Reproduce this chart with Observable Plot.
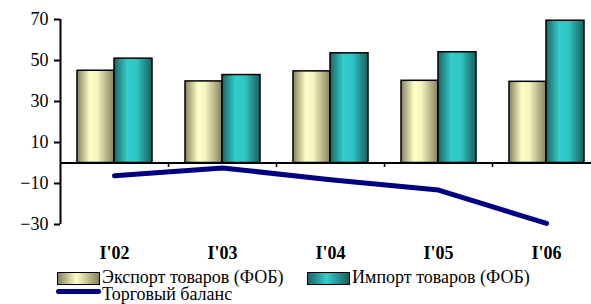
<!DOCTYPE html>
<html><head><meta charset="utf-8">
<script src="https://cdn.jsdelivr.net/npm/d3@7"></script>
<script src="https://cdn.jsdelivr.net/npm/@observablehq/plot@0.6"></script>
<style>
body{margin:0;background:#fff;font-family:"Liberation Serif","Times New Roman",serif;}
#wrap{position:relative;width:591px;height:304px;overflow:hidden;}
#chart svg, #chart svg text, #chart svg g{font-family:"Liberation Serif","Times New Roman",serif !important;}
#legend{position:absolute;left:0;top:264px;width:591px;height:40px;font-size:18px;color:#000;font-family:"Liberation Serif","Times New Roman",serif;}
.sw{position:absolute;box-sizing:border-box;border:1.5px solid #000;}
.lt{position:absolute;line-height:16px;height:16px;white-space:nowrap;}
</style>
</head><body>
<div id="wrap"><div id="chart"></div><div id="legend"></div></div>
<script>
const categories = ["I'02","I'03","I'04","I'05","I'06"];
const exportValues = [45.0, 39.8, 44.7, 40.1, 39.6];
const importValues = [50.9, 42.9, 53.5, 54.0, 69.4];
const balanceValues = [-6.2, -2.4, -8.2, -13.2, -29.5];
const yTicks = [70, 50, 30, 10, -10, -30];
const seriesNames = ["Экспорт товаров (ФОБ)", "Импорт товаров (ФОБ)", "Торговый баланс"];

const exportData = categories.map((c,i)=>({cat:c, v:exportValues[i]}));
const importData = categories.map((c,i)=>({cat:c, v:importValues[i]}));
const balanceData = categories.map((c,i)=>({cat:c, v:balanceValues[i]}));

const FONT = '"Liberation Serif","Times New Roman",serif';
const chart = Plot.plot({
  width: 591, height: 264,
  marginLeft: 60, marginRight: -9, marginTop: 19, marginBottom: 40,
  style: {fontFamily: FONT, fontSize: "18px", color: "#000", background: "#fff", overflow: "hidden"},
  x: {type: "band", domain: categories, padding: 0, round: false, axis: null, label: null},
  y: {domain: [-30, 70], axis: null, label: null},
  marks: [
    Plot.barY(exportData, {x: "cat", y: "v", fill: "url(#gExp)", stroke: "#000", strokeWidth: 1.5, insetLeft: 17, insetRight: 54}),
    Plot.barY(importData, {x: "cat", y: "v", fill: "url(#gImp)", stroke: "#000", strokeWidth: 1.5, insetLeft: 54, insetRight: 16}),
    Plot.ruleY([0], {stroke: "#000", strokeWidth: 2}),
    Plot.ruleX(categories.slice(1), {x: d => d, y1: 0, y2: -30, dx: -54, insetBottom: 57, stroke: "#000", strokeWidth: 1.5}),
    Plot.ruleX(categories.slice(0,1), {x: d => d, y1: -30, y2: 70, dx: -54, stroke: "#000", strokeWidth: 2}),
    Plot.axisY({ticks: yTicks, tickSize: 6, tickPadding: 6, strokeWidth: 2, fontSize: 18, label: null}),
    Plot.axisX({anchor: "bottom", tickSize: 0, tickPadding: 22, fontSize: 18, fontWeight: "bold", label: null}),
    Plot.lineY(balanceData, {x: "cat", y: "v", stroke: "#000080", strokeWidth: 5, strokeLinecap: "round", strokeLinejoin: "round"})
  ]
});

const svg = chart.tagName.toLowerCase() === "svg" ? chart : chart.querySelector("svg");
svg.querySelectorAll("text").forEach(t => t.setAttribute("font-family", FONT));
const ns = "http://www.w3.org/2000/svg";
const defs = document.createElementNS(ns, "defs");
function grad(id, stops){
  const g = document.createElementNS(ns, "linearGradient");
  g.setAttribute("id", id);
  g.setAttribute("x1","0"); g.setAttribute("x2","1"); g.setAttribute("y1","0"); g.setAttribute("y2","0");
  stops.forEach(([o,c])=>{const s=document.createElementNS(ns,"stop"); s.setAttribute("offset",o); s.setAttribute("stop-color",c); g.appendChild(s);});
  defs.appendChild(g);
}
grad("gExp", [[0,"#85835f"],[0.35,"#ffffc8"],[0.55,"#f4f4be"],[1,"#85835f"]]);
grad("gImp", [[0,"#1d6666"],[0.35,"#33cccc"],[0.6,"#31c4c4"],[1,"#1c5e5e"]]);
svg.insertBefore(defs, svg.firstChild);
document.getElementById("chart").appendChild(chart);

const legend = document.getElementById("legend");
legend.innerHTML = `
<div class="sw" style="left:57px;top:8px;width:43px;height:13px;background:linear-gradient(to right,#85835f,#ffffc8 45%,#85835f)"></div>
<div class="lt" style="left:102px;top:5px">${seriesNames[0]}</div>
<div class="sw" style="left:307px;top:8px;width:43px;height:13px;background:linear-gradient(to right,#1d6666,#33cccc 45%,#1c5e5e)"></div>
<div class="lt" style="left:352px;top:5px">${seriesNames[1]}</div>
<div style="position:absolute;left:56px;top:25px;width:45px;height:5px;border-radius:3px;background:#000080"></div>
<div class="lt" style="left:102px;top:22px">${seriesNames[2]}</div>`;
</script>
</body></html>
